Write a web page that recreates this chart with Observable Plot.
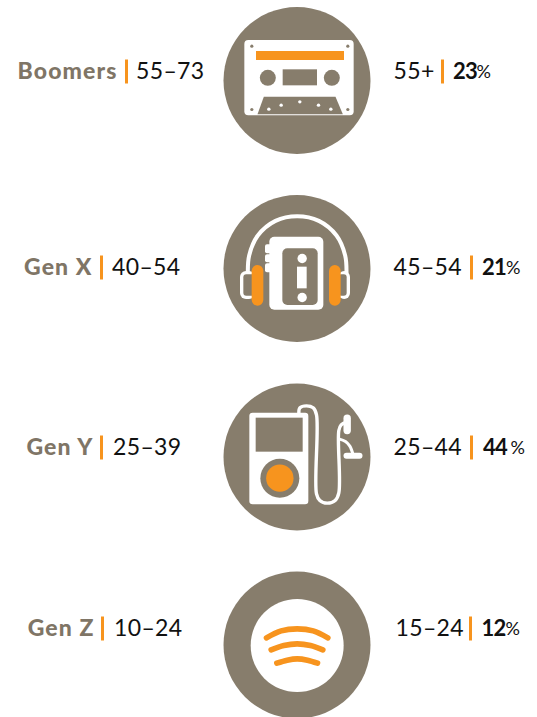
<!DOCTYPE html>
<html>
<head>
<meta charset="utf-8">
<script src="https://cdn.jsdelivr.net/npm/d3@7"></script>
<script src="https://cdn.jsdelivr.net/npm/@observablehq/plot@0.6"></script>
<style>html,body{margin:0;padding:0;background:#fff;overflow:hidden}svg{display:block}
.t-name{letter-spacing:1.1px}.t-age{letter-spacing:.35px}.t-share{letter-spacing:-.8px}</style>
</head>
<body>
<div id="chart"></div>
<script>
// Chart content
const generations = ["Boomers", "Gen X", "Gen Y", "Gen Z"];
const generationAges = ["55–73", "40–54", "25–39", "10–24"];
const marketAges = ["55+", "45–54", "25–44", "15–24"];
const shares = [23, 21, 44, 12];

// Layout, in page pixels
const rowCentres = [80, 268, 456.5, 644.5];
const baselines = [78.5, 274.5, 454.5, 635.5];
const nameEnd = [117, 92, 93, 94];
const leftBar = [126, 101, 101, 102];
const ageStart = [135.5, 111.5, 112.5, 113.5];
const marketStart = [393, 393, 393, 395];
const rightBar = [442, 471, 471, 470];
const shareStart = [452.5, 481.5, 482.5, 481];
const pctStart = [476, 505.5, 510, 505];

const taupe = "#877d6c", orange = "#f7941e", white = "#ffffff";

const rows = generations.map((g, i) => ({
  g, age: generationAges[i], market: marketAges[i], share: String(shares[i]),
  cy: rowCentres[i], base: baselines[i], nameEnd: nameEnd[i], leftBar: leftBar[i],
  ageStart: ageStart[i], marketStart: marketStart[i], rightBar: rightBar[i],
  shareStart: shareStart[i], pctStart: pctStart[i], cx: 296.5
}));

// Icon geometry is traced on a 3x grid, one origin per icon
const grid = (ox, oy) => ({
  pts: a => a.map(([x, y]) => ({x: x / 3 + ox, y: y / 3 + oy})),
  rc: ([x1, y1, x2, y2]) => ({x1: x1 / 3 + ox, y1: y1 / 3 + oy, x2: x2 / 3 + ox, y2: y2 / 3 + oy})
});
const A = grid(210, 0), B = grid(210, 185), C = grid(210, 375), D = grid(210, 560);

const rect = (g, box, fill, rx = 0) => Plot.rect([g.rc(box)], {x1: "x1", y1: "y1", x2: "x2", y2: "y2", fill, rx});
const dots = (g, list, fill, r) => Plot.dot(g.pts(list), {x: "x", y: "y", r, fill, stroke: null});
const path = (g, list, stroke, strokeWidth, curve = "catmull-rom") =>
  Plot.line(g.pts(list), {x: "x", y: "y", stroke, strokeWidth, curve, strokeLinecap: "round", strokeLinejoin: "round"});
const poly = (g, list, fill) => Plot.line(g.pts(list), {x: "x", y: "y", fill, stroke: null, curve: "linear-closed"});

const cassette = [
  rect(A, [103, 120, 431, 346], white, 4),
  rect(A, [138, 153, 402, 180], orange),
  dots(A, [[172, 232], [364, 232]], taupe, 8),
  rect(A, [218, 208, 321, 256], taupe),
  poly(A, [[160, 289], [375, 289], [397, 341], [141, 341]], taupe),
  dots(A, [[175, 326], [212, 314], [268, 304], [324, 314], [361, 326]], white, 1.7),
  dots(A, [[124, 137], [412, 137], [124, 327], [412, 327]], taupe, 1.6)
];

const walkman = [
  path(B, [[112, 262], [116, 210], [142, 150], [195, 106], [260, 92], [325, 106], [378, 150], [404, 210], [408, 262]], white, 4),
  rect(B, [90, 258, 135, 342], white, 6),
  rect(B, [100, 268, 135, 332], taupe, 3),
  rect(B, [385, 258, 420, 342], white, 6),
  rect(B, [385, 268, 410, 332], taupe, 3),
  rect(B, [125, 240, 160, 362], orange, 5.8),
  rect(B, [357, 240, 392, 362], orange, 5.8),
  rect(B, [165, 178, 185, 205], white, 2),
  rect(B, [165, 208, 185, 232], white, 2),
  rect(B, [165, 235, 185, 262], white, 2),
  rect(B, [178, 155, 340, 374], white, 5),
  rect(B, [217, 190, 323, 360], taupe, 5),
  dots(B, [[275, 219], [275, 336]], white, 4.7),
  rect(B, [261, 245, 290, 310], white)
];

const ipod = [
  path(C, [[265, 115], [268, 97], [288, 91], [308, 97], [318, 118], [318, 355], [328, 375], [350, 383], [374, 375], [385, 352], [385, 165], [392, 148], [408, 140]], white, 3.4),
  path(C, [[385, 190], [405, 198], [418, 212], [428, 238]], white, 3),
  path(C, [[410, 128], [410, 165]], white, 7.4, "linear"),
  path(C, [[408, 241], [447, 241]], white, 6, "linear"),
  rect(C, [118, 113, 295, 388], white, 3.3),
  rect(C, [137, 128, 278, 230], taupe),
  dots(C, [[208, 308]], taupe, 19.5),
  dots(C, [[208, 308]], orange, 13.7)
];

const spotify = [
  dots(D, [[260, 255]], white, 46.5),
  path(D, [[168, 232], [212, 211], [260, 205], [308, 211], [352, 232]], orange, 5.6),
  path(D, [[182, 268], [220, 255], [260, 250], [300, 255], [337, 268]], orange, 5.6),
  path(D, [[199, 308], [230, 299], [260, 295], [291, 299], [321, 308]], orange, 5.6)
];

const font = {fontFamily: "Lato", fontSize: 23, lineAnchor: "bottom"};

const chart = Plot.plot({
  width: 537, height: 717,
  marginTop: 0, marginRight: 0, marginBottom: 0, marginLeft: 0,
  x: {domain: [0, 537], range: [0, 537], axis: null},
  y: {domain: [0, 717], range: [0, 717], axis: null},
  style: {background: "transparent"},
  marks: [
    Plot.dot(rows, {x: "cx", y: "cy", r: 73.5, fill: taupe, stroke: null}),
    ...cassette, ...walkman, ...ipod, ...spotify,
    Plot.text(rows, {x: "nameEnd", y: "base", text: "g", textAnchor: "end", fill: "#7f7566", fontWeight: 900, className: "t-name", ...font}),
    Plot.ruleX(rows, {x: "leftBar", y1: d => d.base - 19, y2: d => d.base + 5, stroke: orange, strokeWidth: 3}),
    Plot.text(rows, {x: "ageStart", y: "base", text: "age", textAnchor: "start", fill: "#111111", className: "t-age", ...font}),
    Plot.text(rows, {x: "marketStart", y: "base", text: "market", textAnchor: "start", fill: "#111111", className: "t-age", ...font}),
    Plot.ruleX(rows, {x: "rightBar", y1: d => d.base - 19, y2: d => d.base + 5, stroke: orange, strokeWidth: 3}),
    Plot.text(rows, {x: "shareStart", y: "base", text: "share", textAnchor: "start", fill: "#111111", fontWeight: 700, className: "t-share", fontFamily: "Lato", fontSize: 22, lineAnchor: "bottom"}),
    Plot.text(rows, {x: "pctStart", y: d => d.base - 1.5, text: () => "%", textAnchor: "start", fill: "#111111", fontFamily: "Lato", fontSize: 18, lineAnchor: "bottom"})
  ]
});
document.getElementById("chart").appendChild(chart);
</script>
</body>
</html>
